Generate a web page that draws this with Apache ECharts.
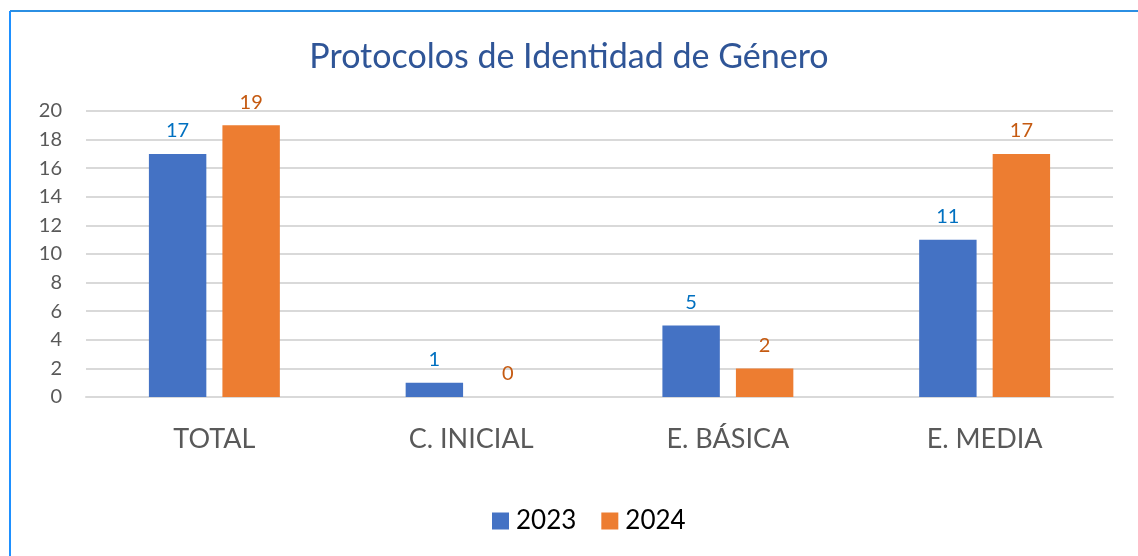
<!DOCTYPE html>
<html>
<head>
<meta charset="utf-8">
<script src="https://cdn.jsdelivr.net/npm/echarts@6/dist/echarts.min.js"></script>
<style>
  html, body { margin: 0; padding: 0; background: #fff; }
  #chart { width: 1138px; height: 556px; }
</style>
</head>
<body>
<div id="chart"></div>
<script>
var categories = ['TOTAL', 'C. INICIAL', 'E. BÁSICA', 'E. MEDIA']
var values2023 = [17, 1, 5, 11]
var values2024 = [19, 0, 2, 17]
var seriesNames = ['2023', '2024']

var fontName = 'Lato'
var chart = echarts.init(document.getElementById('chart'))

function labelOpt (color) {
  return {
    show: true,
    position: 'top',
    distance: 13,
    color: color,
    fontSize: 20,
    fontFamily: fontName
  }
}

chart.setOption({
  animation: false,
  color: ['#4472c4', '#ed7d31'],
  title: {
    text: 'Protocolos de Identidad de Género',
    left: 'center',
    top: 35,
    textStyle: {
      color: '#2f5597',
      fontSize: 34,
      fontWeight: 'normal',
      fontFamily: fontName
    }
  },
  graphic: [
    { type: 'line', shape: { x1: 10, y1: 11, x2: 1138, y2: 11 }, style: { stroke: '#2b8fe3', lineWidth: 2 } },
    { type: 'line', shape: { x1: 10, y1: 11, x2: 10, y2: 556 }, style: { stroke: '#1e90ff', lineWidth: 2 } }
  ],
  legend: {
    data: seriesNames,
    bottom: 17,
    left: 487,
    itemWidth: 17,
    itemHeight: 17,
    itemGap: 25,
    icon: 'rect',
    textStyle: { fontSize: 26, color: '#000', fontFamily: fontName, padding: [0, 0, 0, 2] }
  },
  grid: {
    left: 86,
    right: 25,
    top: 111,
    bottom: 159,
    containLabel: false
  },
  xAxis: {
    type: 'category',
    data: categories,
    axisTick: { show: false },
    axisLine: { lineStyle: { color: '#d9d9d9', width: 2 } },
    axisLabel: { color: '#595959', fontSize: 27, margin: 29, fontFamily: fontName }
  },
  yAxis: {
    type: 'value',
    min: 0,
    max: 20,
    interval: 2,
    axisLine: { show: false },
    axisTick: { show: false },
    axisLabel: { color: '#595959', fontSize: 20, margin: 24, fontFamily: fontName },
    splitLine: { lineStyle: { color: '#d9d9d9', width: 2 } }
  },
  series: [
    {
      name: seriesNames[0],
      type: 'bar',
      data: values2023,
      barGap: '28%',
      barCategoryGap: '49%',
      label: labelOpt('#0070c0')
    },
    {
      name: seriesNames[1],
      type: 'bar',
      data: values2024,
      label: labelOpt('#c55a11')
    }
  ]
})
</script>
</body>
</html>
